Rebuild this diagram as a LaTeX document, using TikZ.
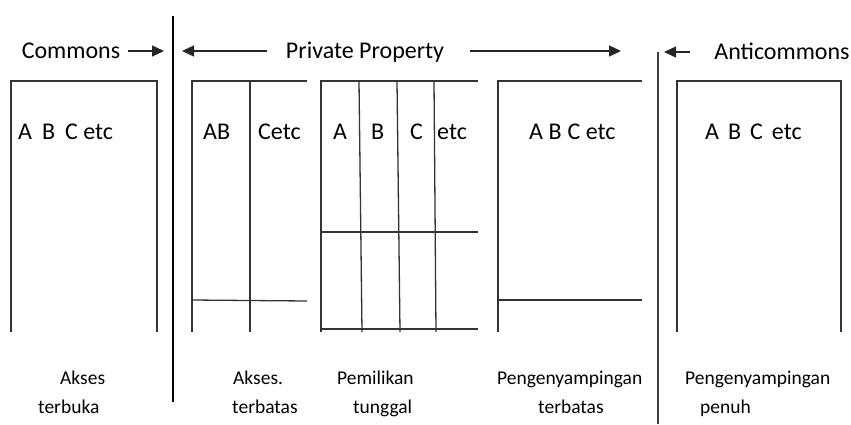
\documentclass[tikz,border=0pt]{standalone}
\usepackage{fontspec}
\setmainfont{Carlito}
\usetikzlibrary{arrows.meta}
\begin{document}
\begin{tikzpicture}[x=1pt,y=-1pt,
  frame/.style={draw=black!80,line width=1.3pt},
  divider/.style={draw=black,line width=2.4pt},
  rule/.style={draw=black!75,line width=1.3pt},
  head/.style={font=\fontsize{24}{28}\selectfont,inner sep=0pt,anchor=base},
  cell/.style={font=\fontsize{24}{28}\selectfont,inner sep=0pt,anchor=base west},
  caption/.style={font=\fontsize{19.5}{23}\selectfont,inner sep=0pt,anchor=base west},
  pointer/.style={draw=black!85,line width=1.3pt,-{Triangle[length=12pt,width=11pt]}}]
\useasboundingbox (0,0) rectangle (851,424);

% headings and arrows
\node[head] (commons) at (71,58) {Commons};
\node[head] (private) at (365,58) {Private Property};
\node[head] (anti) at (782,59) {Anticommons};
\coordinate (cA) at (128,51); \coordinate (cB) at (164,51);
\coordinate (pA) at (267,51); \coordinate (pB) at (182,51);
\coordinate (qA) at (470,51); \coordinate (qB) at (621,51);
\coordinate (aA) at (690,52); \coordinate (aB) at (664,52);
\draw[pointer] (cA) -- (cB);
\draw[pointer] (pA) -- (pB);
\draw[pointer] (qA) -- (qB);
\draw[pointer] (aA) -- (aB);

% vertical dividers
\coordinate (d1t) at (173,16); \coordinate (d1b) at (173,402);
\coordinate (d2t) at (658,52); \coordinate (d2b) at (658,424);
\draw[divider] (d1t) -- (d1b);
\draw[rule,line width=1.5pt] (d2t) -- (d2b);

% open access
\draw[frame] (11,332) -- (11,81) -- (157,81) -- (157,332);
\node[cell] (b1) at (18,139) {A\hspace{10pt}B\hspace{10pt}C etc};

% restricted access
\draw[frame] (192,332) -- (192,81) -- (307,81);
\draw[frame] (250,81) -- (250,332);
\draw[frame] (192,300) -- (307,301);
\node[cell] (b2a) at (203,139) {AB};
\node[cell] (b2b) at (258,139) {Cetc};

% single ownership
\draw[frame] (321,332) -- (321,81) -- (478,81);
\draw[frame] (359,81) -- (362,332);
\draw[frame] (397,81) -- (400,332);
\draw[frame] (434,81) -- (436,332);
\draw[frame] (321,232) -- (478,232);
\draw[frame] (321,329) -- (478,329);
\node[cell] (b3a) at (333,139) {A};
\node[cell] (b3b) at (371,139) {B};
\node[cell] (b3c) at (410,139) {C};
\node[cell] (b3d) at (437,139) {etc};

% restricted exclusion
\draw[frame] (498,332) -- (498,81) -- (642,81);
\draw[frame] (498,300) -- (642,300);
\node[cell] (b4) at (529,139) {A B\hspace{6pt}C etc};

% full exclusion
\draw[frame] (677,332) -- (677,81) -- (841,81) -- (841,332);
\node[cell] (b5) at (705,139) {A\hspace{9pt}B\hspace{9pt}C\hspace{9pt}etc};

% captions
\node[caption] (l1a) at (60,384) {Akses};
\node[caption] (l1b) at (38,413) {terbuka};
\node[caption] (l2a) at (233,384) {Akses.};
\node[caption] (l2b) at (232,413) {terbatas};
\node[caption] (l3a) at (337,384) {Pemilikan};
\node[caption] (l3b) at (353,413) {tunggal};
\node[caption] (l4a) at (497,384) {Pengenyampingan};
\node[caption] (l4b) at (538,413) {terbatas};
\node[caption] (l5a) at (685,384) {Pengenyampingan};
\node[caption] (l5b) at (700,413) {penuh};
\end{tikzpicture}
\end{document}
